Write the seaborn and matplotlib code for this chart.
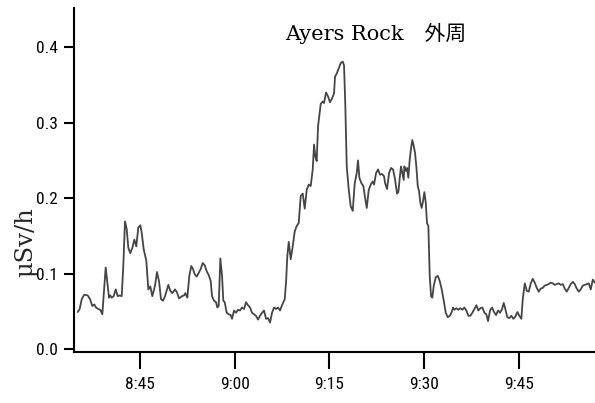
import numpy as np
import pandas as pd
import matplotlib
matplotlib.use("Agg")
import matplotlib.pyplot as plt
import seaborn as sns
from matplotlib import font_manager

# time in minutes after 8:00
minutes = [
    35.13, 35.44, 35.76, 36.17, 36.71, 37.08, 37.44, 37.76, 38.03, 38.39, 38.71, 39.03,
    39.56, 39.88, 40.09, 40.29, 40.52, 40.83, 41.15, 41.47, 41.78, 42.10, 42.35, 42.62,
    42.89, 43.15, 43.46, 43.78, 44.10, 44.41, 44.73, 45.05, 45.27, 45.59, 46.00, 46.32,
    46.63, 46.95, 47.38, 47.69, 48.01, 48.33, 48.65, 48.96, 49.49, 49.80, 50.12, 50.55,
    50.86, 51.18, 51.66, 51.97, 52.18, 52.50, 52.81, 53.13, 53.40, 53.67, 53.99, 54.30,
    54.62, 54.94, 55.25, 55.57, 55.89, 56.21, 56.41, 56.73, 57.05, 57.25, 57.47, 57.73,
    58.00, 58.20, 58.42, 58.74, 59.06, 59.37, 59.58, 59.90, 60.21, 60.53, 60.85, 61.17,
    61.48, 61.80, 62.12, 62.43, 62.75, 63.07, 63.38, 63.70, 64.02, 64.34, 64.65, 64.97,
    65.29, 65.60, 65.92, 66.24, 66.55, 66.87, 67.19, 67.50, 67.93, 68.14, 68.34, 68.57,
    68.88, 69.20, 69.52, 69.83, 70.15, 70.47, 70.79, 71.10, 71.42, 71.74, 72.05, 72.37,
    72.58, 72.78, 73.00, 73.21, 73.42, 73.64, 73.96, 74.16, 74.48, 74.79, 75.11, 75.43,
    75.75, 75.90, 76.17, 76.49, 76.81, 77.12, 77.33, 77.54, 77.76, 78.08, 78.39, 78.71,
    79.03, 79.34, 79.55, 79.76, 80.07, 80.39, 80.71, 80.93, 81.25, 81.56, 81.88, 82.09,
    82.40, 82.72, 83.04, 83.35, 83.67, 83.83, 84.15, 84.46, 84.78, 85.10, 85.41, 85.73,
    85.94, 86.16, 86.36, 86.57, 86.79, 86.89, 87.11, 87.31, 87.52, 87.74, 87.95, 88.15,
    88.38, 88.58, 88.79, 89.01, 89.22, 89.42, 89.64, 89.85, 90.06, 90.28, 90.48, 90.69,
    90.80, 90.91, 91.12, 91.32, 91.55, 91.86, 92.18, 92.50, 92.81, 93.13, 93.45, 93.77,
    94.08, 94.40, 94.60, 94.81, 95.13, 95.44, 95.76, 96.08, 96.40, 96.71, 97.03, 97.35,
    97.66, 97.98, 98.30, 98.61, 98.93, 99.25, 99.57, 99.88, 100.15, 100.47, 100.79, 101.10,
    101.42, 101.74, 102.05, 102.37, 102.64, 102.89, 103.21, 103.53, 103.84, 104.16, 104.48, 104.80,
    105.11, 105.43, 105.65, 105.97, 106.29, 106.60, 106.92, 107.24, 107.55, 107.87, 108.19, 108.50,
    108.82, 109.14, 109.45, 109.77, 110.09, 110.41, 110.72, 111.04, 111.36, 111.67, 111.99, 112.31,
    112.62, 112.94, 113.26, 113.58, 113.89, 114.21, 114.53, 114.84, 115.16, 115.48, 115.79, 116.11,
    116.43, 116.75, 117.06,
]

dose = [
    0.049, 0.053, 0.066, 0.072, 0.071, 0.066, 0.057, 0.059, 0.055, 0.053, 0.052, 0.046,
    0.108, 0.084, 0.068, 0.071, 0.068, 0.070, 0.079, 0.070, 0.071, 0.070, 0.110, 0.169,
    0.159, 0.134, 0.127, 0.134, 0.145, 0.136, 0.161, 0.164, 0.154, 0.132, 0.117, 0.079,
    0.083, 0.070, 0.084, 0.102, 0.090, 0.066, 0.064, 0.070, 0.085, 0.077, 0.074, 0.079,
    0.075, 0.067, 0.070, 0.071, 0.074, 0.068, 0.097, 0.110, 0.106, 0.099, 0.096, 0.101,
    0.106, 0.114, 0.111, 0.103, 0.098, 0.090, 0.070, 0.064, 0.062, 0.055, 0.057, 0.120,
    0.097, 0.064, 0.062, 0.048, 0.046, 0.045, 0.040, 0.051, 0.048, 0.052, 0.051, 0.055,
    0.053, 0.062, 0.058, 0.055, 0.048, 0.046, 0.044, 0.039, 0.044, 0.048, 0.051, 0.040,
    0.041, 0.035, 0.048, 0.055, 0.053, 0.055, 0.051, 0.058, 0.066, 0.088, 0.123, 0.142,
    0.119, 0.136, 0.156, 0.163, 0.167, 0.203, 0.206, 0.186, 0.211, 0.218, 0.216, 0.238,
    0.271, 0.255, 0.249, 0.295, 0.310, 0.325, 0.328, 0.326, 0.340, 0.335, 0.327, 0.332,
    0.339, 0.361, 0.365, 0.372, 0.379, 0.381, 0.376, 0.321, 0.242, 0.211, 0.189, 0.183,
    0.220, 0.233, 0.250, 0.227, 0.220, 0.216, 0.198, 0.187, 0.211, 0.218, 0.222, 0.218,
    0.233, 0.238, 0.231, 0.232, 0.229, 0.220, 0.212, 0.233, 0.240, 0.238, 0.225, 0.206,
    0.208, 0.227, 0.242, 0.233, 0.224, 0.242, 0.236, 0.240, 0.227, 0.251, 0.266, 0.277,
    0.269, 0.260, 0.242, 0.216, 0.209, 0.194, 0.187, 0.196, 0.208, 0.194, 0.167, 0.163,
    0.128, 0.097, 0.070, 0.068, 0.084, 0.095, 0.097, 0.090, 0.079, 0.064, 0.048, 0.042,
    0.044, 0.049, 0.055, 0.052, 0.054, 0.052, 0.054, 0.052, 0.055, 0.051, 0.044, 0.044,
    0.048, 0.053, 0.058, 0.051, 0.054, 0.055, 0.048, 0.046, 0.037, 0.051, 0.055, 0.049,
    0.045, 0.051, 0.048, 0.053, 0.061, 0.053, 0.042, 0.041, 0.044, 0.040, 0.043, 0.049,
    0.044, 0.040, 0.066, 0.087, 0.077, 0.076, 0.087, 0.093, 0.088, 0.081, 0.076, 0.080,
    0.081, 0.084, 0.085, 0.086, 0.088, 0.087, 0.085, 0.086, 0.087, 0.085, 0.086, 0.080,
    0.076, 0.081, 0.086, 0.089, 0.086, 0.080, 0.076, 0.079, 0.084, 0.085, 0.086, 0.087,
    0.079, 0.092, 0.088,
]

x_ticks = [45, 60, 75, 90, 105]
x_tick_labels = ["8:45", "9:00", "9:15", "9:30", "9:45"]
y_ticks = [0.0, 0.1, 0.2, 0.3, 0.4]
y_tick_labels = ["0.0", "0.1", "0.2", "0.3", "0.4"]
title_text = "Ayers Rock\u3000外周"
y_label = "μSv/h"

df = pd.DataFrame({"minutes": minutes, "dose": dose})

sns.set_theme(style="ticks")

# pick a condensed sans font for tick labels if one is installed
fonts = font_manager.fontManager.ttflist
tick_family, tick_stretch = "DejaVu Sans", "normal"
for cand in ["Liberation Sans Narrow", "Roboto Condensed", "Open Sans Condensed"]:
    if any(f.name == cand for f in fonts):
        tick_family = cand
        break
else:
    for cand in ["DejaVu Sans", "Noto Sans", "Open Sans", "Roboto"]:
        if any(f.name == cand and str(f.stretch) in ("condensed", "semi-condensed") for f in fonts):
            tick_family, tick_stretch = cand, "condensed"
            break

plt.rcParams["font.family"] = [tick_family, "DejaVu Sans"]

fig = plt.figure(figsize=(5.95, 4.03), dpi=100)
ax = fig.add_axes([74 / 595, (403 - 352) / 403, (595 - 74) / 595, (352 - 8) / 403])

sns.lineplot(data=df, x="minutes", y="dose", ax=ax, color="#454545", linewidth=1.3,
             estimator=None, sort=False)

ax.set_xlim(34.54, 117.1)
ax.set_ylim(-0.004, 0.452)
ax.set_xticks(x_ticks)
ax.set_xticklabels(x_tick_labels)
ax.set_yticks(y_ticks)
ax.set_yticklabels(y_tick_labels)
ax.set_xlabel("")
ax.set_ylabel(y_label, family=["DejaVu Serif"], fontsize=17.5)
ax.yaxis.set_label_coords(-0.071, 0.32)

for lab in ax.get_xticklabels() + ax.get_yticklabels():
    lab.set_fontstretch(tick_stretch)
    lab.set_family([tick_family, "DejaVu Sans"])

for side in ["top", "right"]:
    ax.spines[side].set_visible(False)
for side in ["left", "bottom"]:
    ax.spines[side].set_linewidth(1.5)
    ax.spines[side].set_color("black")

ax.tick_params(axis="x", direction="out", length=12, width=1.5, pad=6, labelsize=12.5, colors="black")
ax.tick_params(axis="y", direction="out", length=7.5, width=1.5, pad=4, labelsize=12.5, colors="black")

ax.text(0.579, 0.927, title_text, transform=ax.transAxes, ha="center", va="center",
        fontsize=15, family=["DejaVu Serif", "Noto Sans CJK JP"], color="black")

fig.savefig("out.png", dpi=100)
